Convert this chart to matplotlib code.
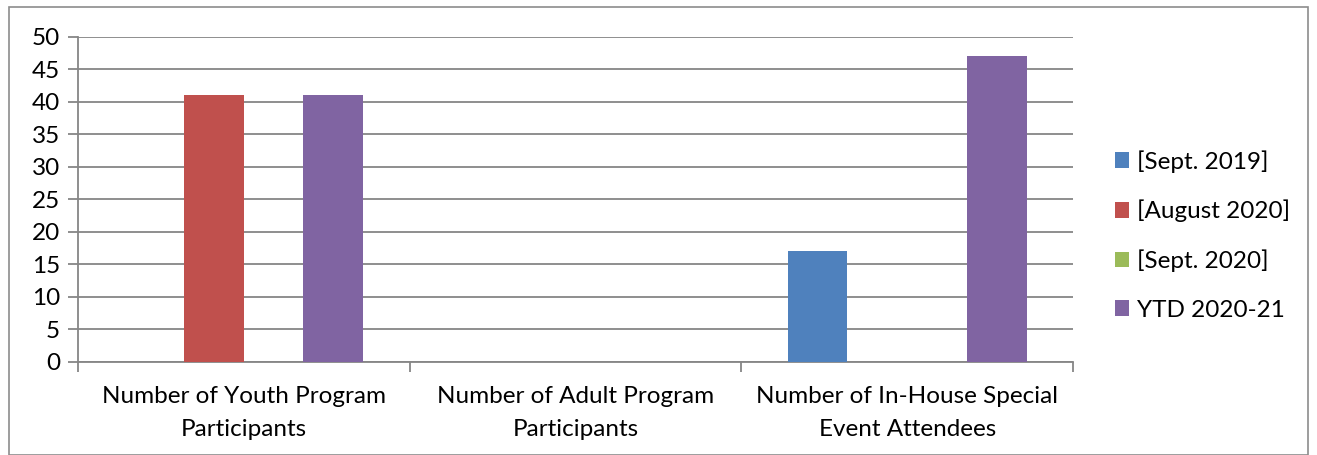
import numpy as np
import matplotlib.pyplot as plt
from matplotlib.patches import Rectangle

plt.rcParams['font.family'] = ['Lato', 'DejaVu Sans']

categories = ['Number of Youth Program\nParticipants',
              'Number of Adult Program\nParticipants',
              'Number of In-House Special\nEvent Attendees']
series_names = ['[Sept. 2019]', '[August 2020]', '[Sept. 2020]', 'YTD 2020-21']
sept_2019 = [0, 0, 17]
aug_2020 = [41, 0, 0]
sept_2020 = [0, 0, 0]
ytd_2020_21 = [41, 0, 47]
colors = ['#4f81bd', '#c0504d', '#9bbb59', '#8064a2']

fs = 17.5

fig = plt.figure(figsize=(13.17, 4.55), dpi=100)
# outer frame round the whole chart
fig.patches.append(Rectangle((0.007, 0.0), 0.986, 0.985, transform=fig.transFigure,
                             fill=False, edgecolor='#8c8c8c', linewidth=1.2))
ax = fig.add_axes([0.0592, 0.2044, 0.7555, 0.7143])

x = np.arange(len(categories))
width = 0.18
all_series = [sept_2019, aug_2020, sept_2020, ytd_2020_21]
for i, (vals, name, c) in enumerate(zip(all_series, series_names, colors)):
    ax.bar(x + (i - 1.5) * width, vals, width, color=c, label=name, zorder=3)

ax.set_xlim(-0.5, 2.5)
ax.set_ylim(0, 50)
ax.set_yticks(range(0, 51, 5))
ax.grid(axis='y', color='#868686', linewidth=1.3, zorder=0)

# category labels between boundary ticks
ax.set_xticks([-0.5, 0.5, 1.5, 2.5])
ax.set_xticklabels([])
ax.set_xticks(x, minor=True)
ax.set_xticklabels(categories, minor=True, fontsize=fs, linespacing=1.75)
ax.tick_params(axis='x', which='minor', length=0, pad=17)
ax.tick_params(axis='x', which='major', length=7, width=1.3, color='#868686', direction='out')
ax.tick_params(axis='y', length=7, width=1.3, color='#868686', labelsize=fs, pad=6)

for side in ['top', 'right']:
    ax.spines[side].set_visible(False)
for side in ['left', 'bottom']:
    ax.spines[side].set_color('#868686')
    ax.spines[side].set_linewidth(1.3)

ax.legend(loc='center left', bbox_to_anchor=(1.02, 0.39), frameon=False, fontsize=fs,
          handlelength=0.6, handleheight=0.6, handletextpad=0.3, labelspacing=1.12)

fig.savefig('out.png', dpi=100)
